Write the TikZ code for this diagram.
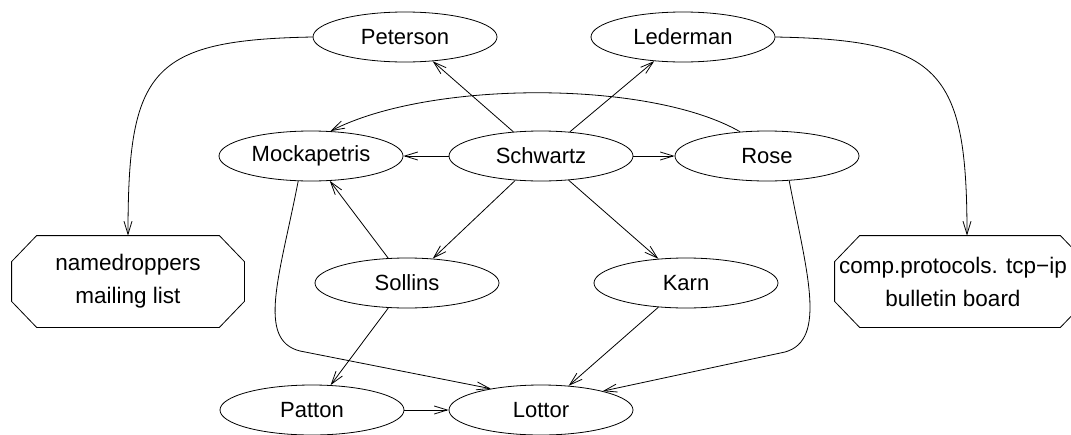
\documentclass[tikz,border=0pt]{standalone}
\usepackage{fontspec}
\setmainfont{Liberation Sans}
\usetikzlibrary{arrows.meta,shapes.geometric}
% #1 node name, #2 horizontal offset of the outline from the node
\newcommand\octoutline[2]{%
  \draw ([xshift=25pt+#2]#1.north west) -- ([xshift=-25pt+#2]#1.north east)
    -- ([xshift=#2,yshift=-26pt]#1.north east) -- ([xshift=#2,yshift=26pt]#1.south east)
    -- ([xshift=-25pt+#2]#1.south east) -- ([xshift=25pt+#2]#1.south west)
    -- ([xshift=#2,yshift=26pt]#1.south west) -- ([xshift=#2,yshift=-26pt]#1.north west) -- cycle;}
\begin{document}
\begin{tikzpicture}[x=1pt,y=-1pt,line width=0.8pt,
  ell/.style={draw,ellipse,minimum width=184pt,minimum height=50pt,inner sep=0pt,
    font=\fontsize{22}{26}\selectfont},
  octbox/.style={minimum width=#1,minimum height=91pt,inner sep=0pt,align=center,
    font=\fontsize{22.5}{33}\selectfont},
  arr/.style={-{Straight Barb[length=13pt,width=8pt,line width=0.8pt]}}]
\useasboundingbox (0,0) rectangle (1071,434);
\clip (0,0) rectangle (1071,434);
% nodes
\node[ell] (peterson) at (405,37) {Peterson};
\node[ell] (lederman) at (683,37) {Lederman};
\node[ell] (mock) at (311,156) {Mockapetris};
\node[ell] (schwartz) at (541,156) {Schwartz};
\node[ell] (rose) at (767,156) {Rose};
\node[ell] (sollins) at (407,283) {Sollins};
\node[ell] (karn) at (686,283) {Karn};
\node[ell] (patton) at (312,410) {Patton};
\node[ell] (lottor) at (541,410) {Lottor};
\node[octbox=232pt] (named) at (128,281.5) {namedroppers\\mailing list};
\octoutline{named}{0pt}
\node[octbox=250pt] (comp) at (953,281.5) {comp.protocols. tcp−ip\\bulletin board};
\octoutline{comp}{7pt}
% edges
\draw[arr] (peterson.west) .. controls (150,40) and (128,70) .. (named.north);
\draw[arr] (lederman.east) .. controls (940,40) and (967,70) .. ([xshift=14pt]comp.north);
\draw[arr] (schwartz) -- (peterson);
\draw[arr] (schwartz) -- (lederman);
\draw[arr] (schwartz) -- (mock);
\draw[arr] (schwartz) -- (rose);
\draw[arr] (schwartz) -- (sollins);
\draw[arr] (schwartz) -- (karn);
\draw[arr] (rose.138) .. controls (650,80) and (430,80) .. (mock.52);
\draw[arr] (sollins) -- (mock);
\draw[arr] (sollins) -- (patton);
\draw[arr] (patton) -- (lottor);
\draw[arr] (karn) -- (lottor);
\draw[arr] (mock.243) .. controls (280,275) and (256,340) .. (300,351) -- (lottor.157);
\draw[arr] (rose.312) .. controls (806,270) and (828,340) .. (785,352) -- (lottor.17);
\end{tikzpicture}
\end{document}
